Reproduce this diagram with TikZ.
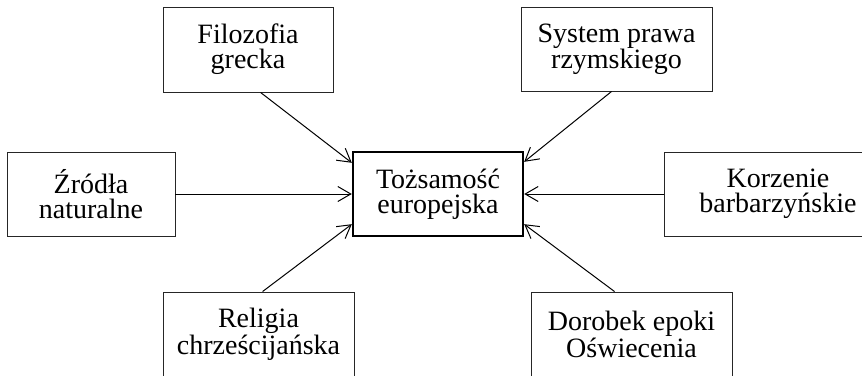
\documentclass[tikz,border=0pt]{standalone}
\usepackage{fontspec}
\setmainfont{Liberation Serif}
\usetikzlibrary{arrows.meta,calc}
\begin{document}
\begin{tikzpicture}[x=1pt,y=-1pt,
  box/.style={draw=black!85,line width=0.9pt,rectangle,inner sep=0pt,align=center,
    font=\fontsize{28}{25}\selectfont},
  mainbox/.style={box,draw=black,line width=2.4pt},
  conn/.style={line width=1pt,-{Straight Barb[length=13pt,width=15pt,line width=1pt]}}]
\clip (0,0) rectangle (862,375);
\node[box,minimum width=170pt,minimum height=85pt] (filo) at (248,49.5) {Filozofia\\grecka};
\node[box,minimum width=191pt,minimum height=84pt] (sys) at (616.5,49) {System prawa\\rzymskiego};
\node[box,minimum width=168pt,minimum height=84pt] (zrodla) at (91,194) {Źródła\\naturalne};
\node[mainbox,minimum width=170pt,minimum height=84pt] (center) at (438,194) {Tożsamość\\europejska};
\node[box,minimum width=228pt,minimum height=84pt] (korz) at (778,194) {Korzenie\\barbarzyńskie};
\node[box,minimum width=191pt,minimum height=85pt] (relig) at (258.5,334.5) {Religia\\chrześcijańska};
\node[box,minimum width=201pt,minimum height=85pt] (dorob) at (631.5,334.5) {Dorobek epoki\\Oświecenia};
\draw[conn] ($(filo.south west)+(98,0)$) -- ($(center.north west)+(0,12)$);
\draw[conn] ($(sys.south west)+(91,0)$) -- ($(center.north east)+(0,11)$);
\draw[conn] (zrodla.east) -- (center.west);
\draw[conn] (korz.west) -- (center.east);
\draw[conn] ($(relig.north west)+(100,0)$) -- ($(center.south west)+(0,-13)$);
\draw[conn] ($(dorob.north west)+(84,0)$) -- ($(center.south east)+(0,-13)$);
\end{tikzpicture}
\end{document}
